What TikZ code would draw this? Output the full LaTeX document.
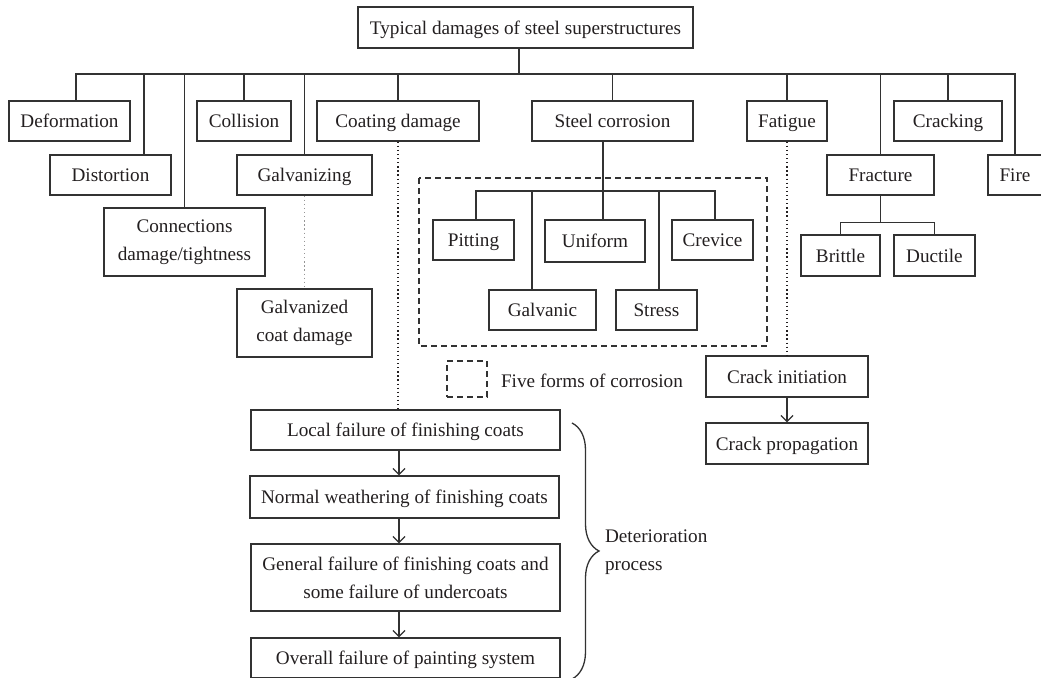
\documentclass[tikz,border=0pt]{standalone}
\usepackage{fontspec}
\setmainfont{Liberation Serif}
\usetikzlibrary{arrows.meta,decorations.pathreplacing}
\definecolor{ink}{RGB}{35,31,32}
\definecolor{edge}{RGB}{50,50,50}
\definecolor{dotg}{RGB}{150,150,150}

\begin{document}
\begin{tikzpicture}[x=0.5pt, y=-0.5pt, font=\fontsize{9.6}{14}\selectfont, text=ink,
    cell/.style={draw=edge, line width=0.65pt, inner sep=2pt, minimum height=20pt, align=center},
    box/.style={cell, text height=0.9em, text depth=0.24em},
    link/.style={draw=edge, line width=0.65pt},
    dots/.style={draw=ink, line width=0.65pt, dash pattern=on 0.65pt off 1.4pt},
    dashbox/.style={draw=edge, line width=0.65pt, dash pattern=on 3pt off 2pt},
    flow/.style={link, -{Straight Barb[length=3pt,width=6pt]}}]
  \useasboundingbox (0,0) rectangle (1041,678);

  \node[box, minimum width=167.5pt, minimum height=20.5pt] (top) at (525.5,27.5) {Typical damages of steel superstructures};

  \node[box, minimum width=60.5pt] (defo) at (69.5,121) {Deformation};
  \node[box, minimum width=60.5pt] (dist) at (110.5,175) {Distortion};
  \node[cell, minimum width=80.5pt, minimum height=34pt] (conn) at (184.5,242) {Connections\\damage/tightness};
  \node[box, minimum width=47pt] (coll) at (244,121) {Collision};
  \node[box, minimum width=67.5pt] (galv) at (304.5,175) {Galvanizing};
  \node[cell, minimum width=67.5pt, minimum height=34pt] (galvd) at (304.5,323) {Galvanized\\coat damage};
  \node[box, minimum width=81pt] (coat) at (398,121) {Coating damage};
  \node[box, minimum width=80.5pt] (steel) at (612.5,121) {Steel corrosion};
  \node[box, minimum width=40pt] (fatig) at (787,121) {Fatigue};
  \node[box, minimum width=54pt] (crack) at (948,121) {Cracking};
  \node[box, minimum width=53.5pt] (frac) at (880.5,175) {Fracture};
  \node[box, minimum width=27pt] (fire) at (1015,175) {Fire};
  \node[box, minimum width=39.5pt, minimum height=20.5pt] (brit) at (840.5,255.5) {Brittle};
  \node[box, minimum width=40.5pt, minimum height=20.5pt] (duct) at (934.5,255.5) {Ductile};

  \draw[dashbox] (419,178) rectangle (767,346);
  \node[box, minimum width=40.5pt] (pit) at (473.5,240) {Pitting};
  \node[box, minimum width=50pt, minimum height=21pt] (unif) at (595,241) {Uniform};
  \node[box, minimum width=40.5pt] (crev) at (712.5,240) {Crevice};
  \node[box, minimum width=53.5pt] (galc) at (542.5,310) {Galvanic};
  \node[box, minimum width=40.5pt] (stre) at (656.5,310) {Stress};

  \node[dashbox, minimum width=20pt, minimum height=18pt] (key) at (467,379) {};
  \node[anchor=west, text height=0.9em, text depth=0.24em] (keytxt) at (494,381) {Five forms of corrosion};

  \node[box, minimum width=154.5pt] (loc) at (405.5,430) {Local failure of finishing coats};
  \node[box, minimum width=154.5pt, minimum height=21pt] (norm) at (404.5,497) {Normal weathering of finishing coats};
  \node[cell, minimum width=154.5pt, minimum height=33.5pt] (gen) at (405.5,577.5) {General failure of finishing coats and\\some failure of undercoats};
  \node[box, minimum width=154.5pt] (over) at (405.5,658) {Overall failure of painting system};
  \node[anchor=west, align=left] (proc) at (598,552) {Deterioration\\process};

  \node[box, minimum width=81pt, minimum height=20.5pt] (cini) at (787,376.5) {Crack initiation};
  \node[box, minimum width=81pt, minimum height=20.5pt] (cprop) at (787,443.5) {Crack propagation};

  \coordinate (bus) at (519,74);
  \draw[link] ([xshift=-3.25pt]top.south) -- (bus);
  \draw[link] ([xshift=3.25pt]defo.north) |- (bus) -| (fire.north);
  \foreach \n in {coll,galv,coat,steel,fatig,crack,frac,conn}
    \draw[link] (\n.north) |- (bus);
  \draw[link] ([xshift=16.75pt]dist.north) |- (bus);

  \coordinate (fork) at (603,191);
  \draw[link] ([xshift=-4.75pt]steel.south) -- ([xshift=4pt]unif.north);
  \draw[link] ([xshift=1.25pt]pit.north) |- (fork) -| ([xshift=1.25pt]crev.north);
  \draw[link] ([xshift=-5.25pt]galc.north) |- (fork);
  \draw[link] ([xshift=1.25pt]stre.north) |- (fork);

  \draw[link] (frac.south) -- ++(0,27) coordinate (fork2);
  \draw[link] (brit.north) |- (fork2) -| (duct.north);

  \draw[dots] (coat.south) -- ([xshift=-3.75pt]loc.north);
  \draw[dots, draw=dotg] (galv.south) -- (galvd.north);
  \draw[dots] (fatig.south) -- (cini.north);

  \draw[flow] ([xshift=-3.25pt]loc.south) -- ([xshift=-2.75pt]norm.north);
  \draw[flow] ([xshift=-2.75pt]norm.south) -- ([xshift=-3.25pt]gen.north);
  \draw[flow] ([xshift=-3.25pt]gen.south) -- ([xshift=-3.25pt]over.north);
  \draw[flow] (cini.south) -- (cprop.north);

  \coordinate (btop) at (572,423);
  \coordinate (bbot) at (572,679);
  \draw[link, decorate, decoration={brace, amplitude=13.5pt}] (btop) -- (bbot);
\end{tikzpicture}
\end{document}
